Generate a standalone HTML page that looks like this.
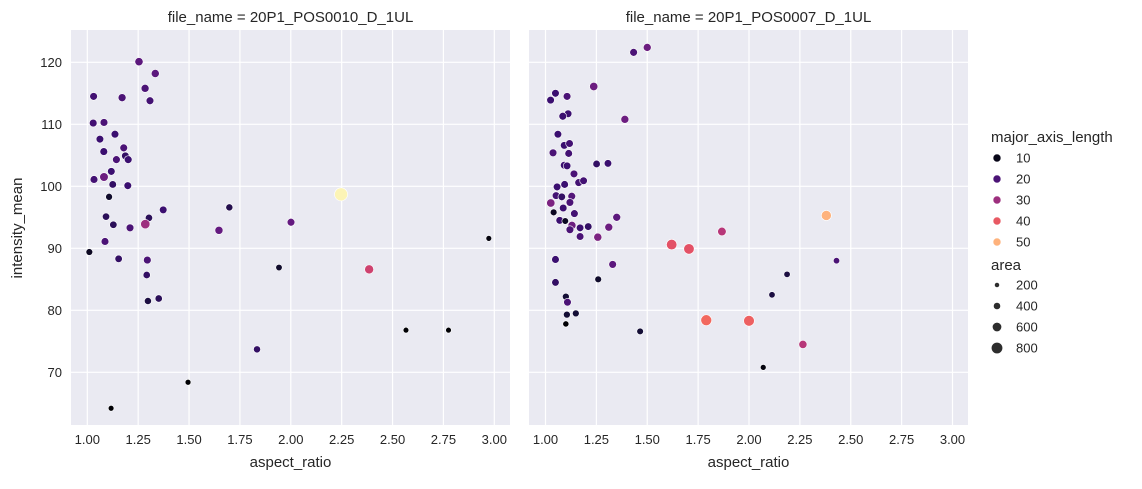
<!DOCTYPE html>
<html><head><meta charset="utf-8">
<style>
body{margin:0;background:#fff;font-family:"Liberation Sans",Arial,sans-serif;}
svg text{font-family:"Liberation Sans",Arial,sans-serif;fill:#262626;}
</style></head>
<body>
<svg id="chart" width="1142" height="484" xmlns="http://www.w3.org/2000/svg"></svg>
<script>
// data: [aspect_ratio, intensity_mean, major_axis_length, area]
const leftPoints = [
[1.254,120.1,22,350],[1.334,118.2,22,330],[1.284,115.8,20,320],[1.308,113.8,19,300],
[1.031,114.5,19,300],[1.171,114.3,20,320],[1.029,110.2,19,300],[1.082,110.3,20,300],
[1.136,108.4,18,300],[1.062,107.6,18,290],[1.081,105.6,18,300],[1.179,106.2,20,300],
[1.143,104.3,20,300],[1.187,104.9,17,290],[1.201,104.3,18,300],[1.118,102.4,18,290],
[1.033,101.1,19,300],[1.082,101.5,24,380],[1.125,100.3,17,280],[1.199,100.1,18,290],
[1.107,98.3,12,220],[1.092,95.1,16,260],[1.303,94.9,16,260],[1.373,96.2,18,290],
[1.698,96.6,15,240],[1.128,93.8,16,270],[1.21,93.3,20,300],[1.285,93.9,30,450],
[1.647,92.9,23,330],[2.001,94.2,23,300],[1.087,91.1,20,300],[1.01,89.4,11,210],
[1.154,88.3,17,270],[1.295,88.1,20,300],[1.292,85.7,17,260],[1.942,86.9,12,180],
[1.298,81.5,14,240],[1.351,81.9,16,260],[1.834,73.7,17,240],[2.247,98.7,57,800],
[2.385,86.6,36,420],[2.775,76.8,8,110],[2.566,76.8,8,110],[2.973,91.6,9,110],
[1.495,68.4,8,120],[1.117,64.2,8,110]
];
const rightPoints = [
[1.433,121.6,20,300],[1.5,122.4,24,320],[1.237,116.1,24,350],[1.049,115.0,18,290],
[1.106,114.5,20,300],[1.025,113.9,18,290],[1.111,111.7,18,290],[1.085,111.3,18,300],
[1.39,110.8,24,320],[1.061,108.4,18,290],[1.092,106.6,18,290],[1.118,106.9,19,290],
[1.037,105.4,20,300],[1.114,105.3,19,290],[1.092,103.4,18,290],[1.106,103.3,18,290],
[1.251,103.6,17,270],[1.307,103.7,18,280],[1.14,102.0,20,300],[1.163,100.6,19,290],
[1.187,100.9,19,290],[1.057,99.9,18,290],[1.094,100.3,18,290],[1.052,98.5,19,290],
[1.08,98.3,17,280],[1.129,98.4,21,300],[1.026,97.3,26,360],[1.12,97.4,20,300],
[1.087,96.5,18,290],[1.04,95.8,11,210],[1.142,95.6,19,290],[1.35,95.0,22,320],
[1.07,94.5,18,290],[1.097,94.4,11,200],[1.13,93.7,24,330],[1.12,93.0,20,300],
[1.17,93.3,18,280],[1.21,93.5,17,280],[1.311,93.4,24,320],[1.17,91.9,20,290],
[1.257,91.8,26,340],[1.62,90.6,39,560],[1.705,89.9,39,560],[1.867,92.7,33,380],
[1.049,88.2,18,290],[1.33,87.4,22,300],[1.259,85.0,12,210],[1.049,84.5,17,280],
[1.1,82.2,13,220],[1.108,81.3,20,290],[1.105,79.3,13,220],[1.149,79.5,13,220],
[1.1,77.8,7,150],[1.465,76.6,13,200],[1.79,78.4,42,600],[2.0,78.3,41,580],
[2.265,74.5,33,340],[2.07,70.8,9,120],[2.187,85.8,14,170],[2.113,82.5,14,170],
[2.43,88.0,20,170],[2.38,95.3,50,520]
];
const xTicks = [1.00,1.25,1.50,1.75,2.00,2.25,2.50,2.75,3.00];
const yTicks = [70,80,90,100,110,120];
const colorLegend = [10,20,30,40,50];
const sizeLegend = [200,400,600,800];
const panelTitles = ["file_name = 20P1_POS0010_D_1UL","file_name = 20P1_POS0007_D_1UL"];

const NS="http://www.w3.org/2000/svg";
const svg=document.getElementById('chart');
function mk(tag,attrs,parent){const e=document.createElementNS(NS,tag);for(const k in attrs)e.setAttribute(k,attrs[k]);(parent||svg).appendChild(e);return e;}
const stops=[[0,[0,0,4]],[0.1,[20,14,54]],[0.2,[59,15,112]],[0.3,[100,26,128]],[0.4,[140,41,129]],[0.5,[183,55,121]],[0.6,[222,73,104]],[0.7,[247,112,92]],[0.8,[254,159,109]],[0.9,[254,207,146]],[1,[252,253,191]]];
function magma(t){t=Math.max(0,Math.min(1,t));for(let i=1;i<stops.length;i++){if(t<=stops[i][0]){const a=stops[i-1],b=stops[i];const f=(t-a[0])/(b[0]-a[0]);const c=a[1].map((v,j)=>Math.round(v+(b[1][j]-v)*f));return `rgb(${c.join(',')})`;}}return 'rgb(252,253,191)';}
function colorOf(ma){return magma((ma-8)/50);}
function rOf(area){return 2.3+area/190;}

const topY=30,bottomY=425;
const yScale=v=>62.3+(120-v)*6.2;
const panels=[{x0:71,x1:510,base:87.3,pts:leftPoints,name:'left'},{x0:529,x1:968,base:545.5,pts:rightPoints,name:'right'}];
panels.forEach((p,pi)=>{
  const xScale=v=>p.base+(v-1)*203.5;
  const g=mk('g',{});
  
  
  const bg=mk('rect',{x:p.x0,y:topY,width:p.x1-p.x0,height:bottomY-topY,fill:'#eaeaf2'},g);
  
  
  xTicks.forEach(t=>{
    const x=xScale(t);
    const l=mk('line',{x1:x,x2:x,y1:topY,y2:bottomY,stroke:'#fff','stroke-width':1.2},g);
    
    
    const tx=mk('text',{x:x,y:444,'text-anchor':'middle','font-size':13},g);
    tx.textContent=t.toFixed(2);
    
    
  });
  yTicks.forEach(t=>{
    const y=yScale(t);
    const l=mk('line',{x1:p.x0,x2:p.x1,y1:y,y2:y,stroke:'#fff','stroke-width':1.2},g);
    
    
    if(pi===0){
      const tx=mk('text',{x:p.x0-9,y:y+4.5,'text-anchor':'end','font-size':13},g);
      tx.textContent=t;
      
      
    }
  });
  p.pts.forEach(d=>{
    const c=mk('circle',{cx:xScale(d[0]),cy:yScale(d[1]),r:rOf(d[3]),fill:colorOf(d[2]),stroke:'#fff','stroke-width':0.6},g);
    
    
  });
  const tt=mk('text',{x:(p.x0+p.x1)/2,y:22,'text-anchor':'middle','font-size':15},g);
  tt.textContent=panelTitles[pi];
  
  
  const xl=mk('text',{x:(p.x0+p.x1)/2,y:467,'text-anchor':'middle','font-size':15},g);
  xl.textContent='aspect_ratio';
  
  
});
const yl=mk('text',{x:22,y:228,'text-anchor':'middle','font-size':15,transform:'rotate(-90 22 228)'});
yl.textContent='intensity_mean';



const lg=mk('g',{});


const lt=mk('text',{x:991,y:142,'font-size':15},lg);
lt.textContent='major_axis_length';


colorLegend.forEach((v,i)=>{
  const y=158+i*21;
  const c=mk('circle',{cx:997,cy:y,r:4,fill:colorOf(v),stroke:'#fff','stroke-width':0.6},lg);
  
  
  const t=mk('text',{x:1016,y:y+4.5,'font-size':13},lg);
  t.textContent=v;
  
  
});
const at=mk('text',{x:991,y:270,'font-size':15},lg);
at.textContent='area';


sizeLegend.forEach((v,i)=>{
  const y=285+i*21;
  const c=mk('circle',{cx:997,cy:y,r:rOf(v)-0.8,fill:'#2d2d2d',stroke:'#fff','stroke-width':0.6},lg);
  
  
  const t=mk('text',{x:1016,y:y+4.5,'font-size':13},lg);
  t.textContent=v;
  
  
});
</script>
</body></html>
